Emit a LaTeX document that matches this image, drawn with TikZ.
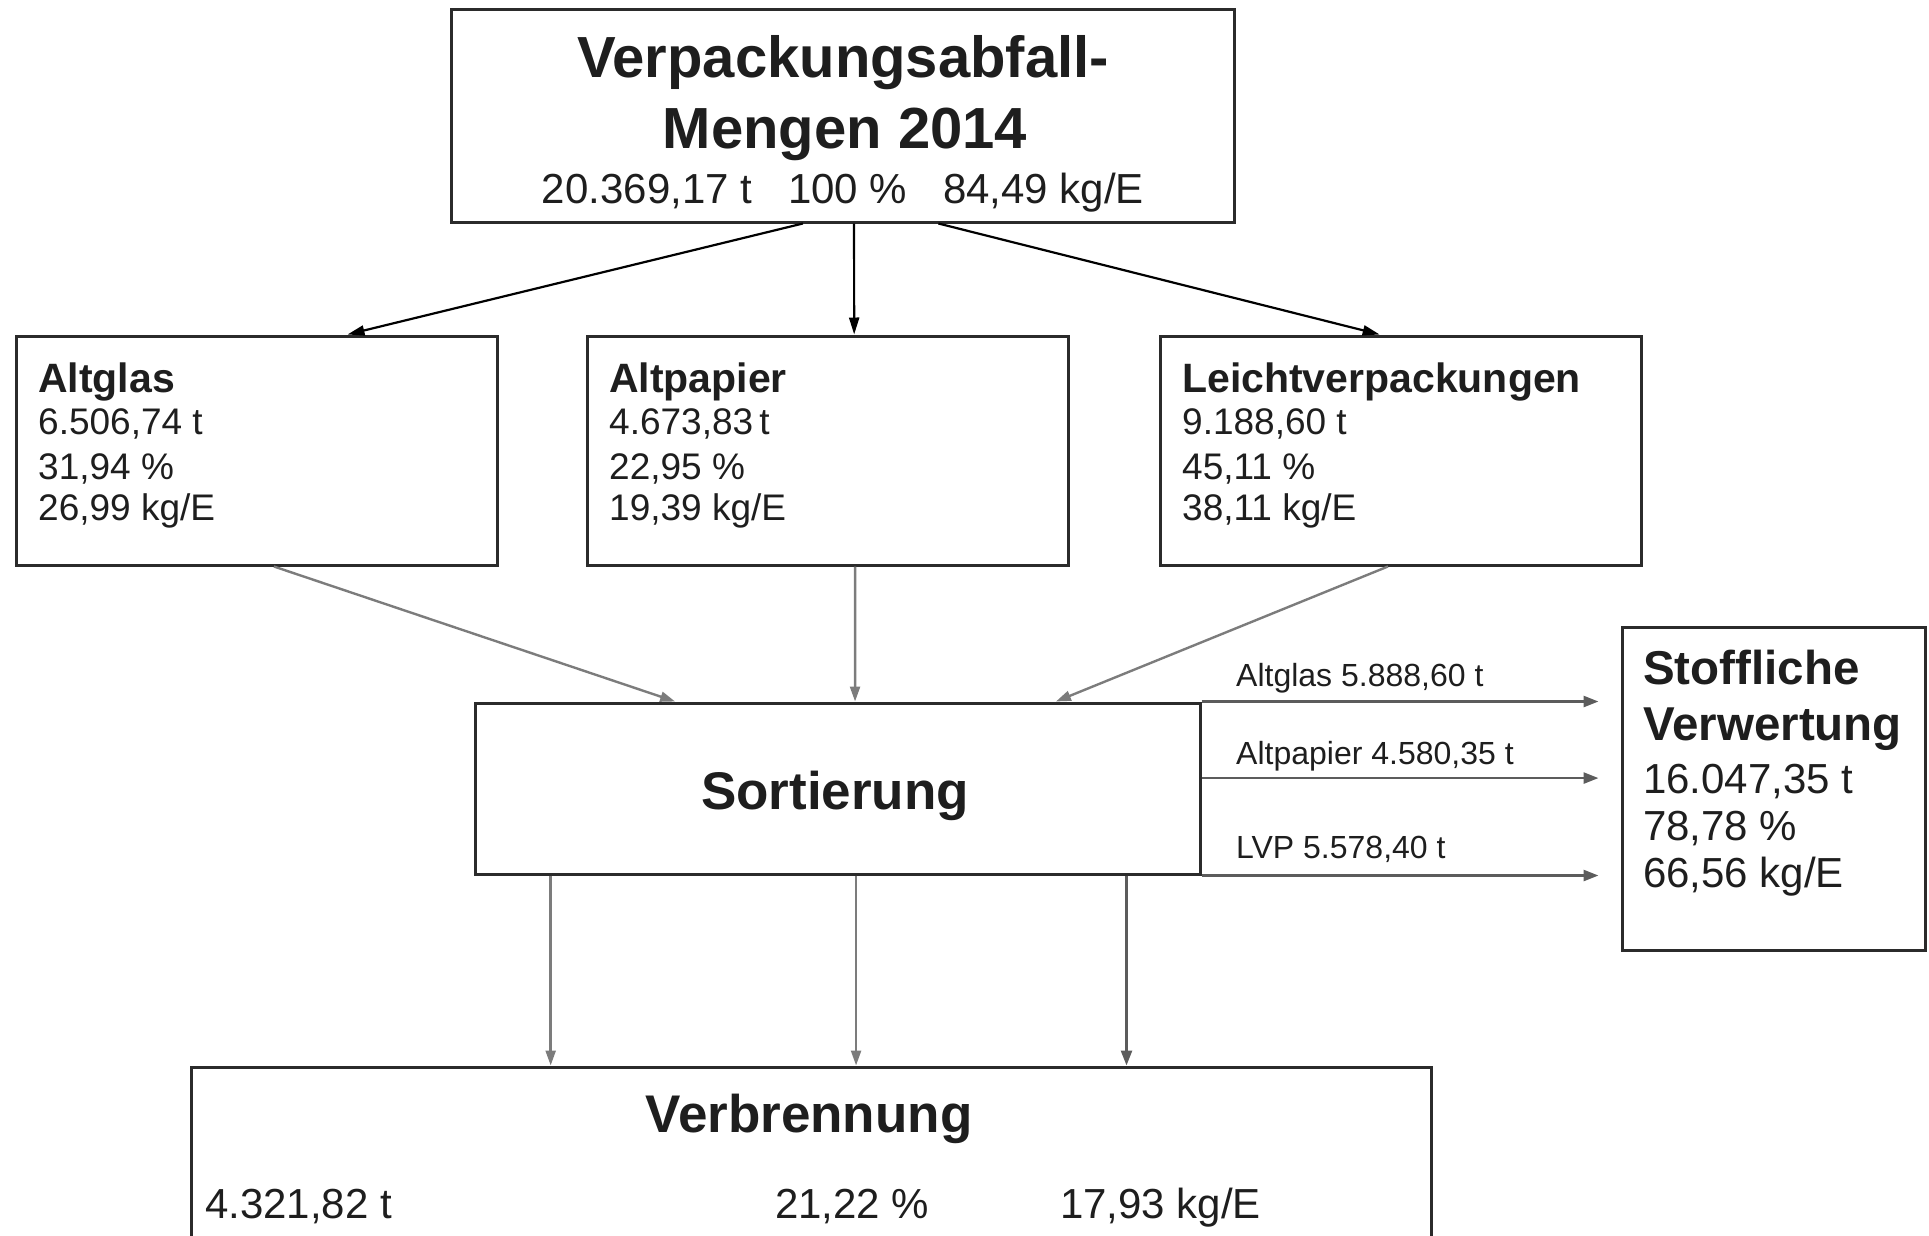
\documentclass[tikz,border=0pt]{standalone}
\usepackage{fontspec}
\setmainfont{Liberation Sans}
\usetikzlibrary{arrows.meta,calc}
\definecolor{ink}{HTML}{1E1E1E}
\definecolor{edgec}{HTML}{2B2B2B}
\definecolor{grayarrow}{HTML}{7C7C7C}
\definecolor{midarrow}{HTML}{5C5C5C}
\begin{document}
\begin{tikzpicture}[x=1pt,y=-1pt,
  box/.style={draw=edgec, line width=3pt, rectangle, inner sep=0pt, fill=white},
  txt/.style={inner sep=0pt, text=ink},
  bigb/.style={font=\fontsize{58pt}{64pt}\selectfont\bfseries},
  midb/.style={font=\fontsize{53pt}{60pt}\selectfont\bfseries},
  stb/.style={font=\fontsize{47.5pt}{54pt}\selectfont\bfseries},
  hb/.style={font=\fontsize{41pt}{46pt}\selectfont\bfseries},
  r42/.style={font=\fontsize{42pt}{48pt}\selectfont},
  r37/.style={font=\fontsize{37pt}{44pt}\selectfont},
  r32/.style={font=\fontsize{32pt}{36pt}\selectfont},
  conk/.style={draw=black, line width=2.2pt, -{Triangle[length=17pt,width=10pt]}},
  cong/.style={draw=grayarrow, line width=2.4pt, -{Triangle[length=15pt,width=10pt]}},
  conm/.style={draw=midarrow, line width=2.6pt, -{Triangle[length=15pt,width=11pt]}}
]
\useasboundingbox (0,0) rectangle (1929,1236);
\clip (0,0) rectangle (1929,1236);

% boxes
\node[box, minimum width=783pt, minimum height=212pt] (top) at (842.5,116) {};
\node[box, minimum width=481pt, minimum height=229pt] (ag) at (256.5,450.5) {};
\node[box, minimum width=481pt, minimum height=229pt] (ap) at (827.5,450.5) {};
\node[box, minimum width=481pt, minimum height=229pt] (lv) at (1400.5,450.5) {};
\node[box, minimum width=725pt, minimum height=171pt] (so) at (837.5,788.5) {};
\node[box, minimum width=303pt, minimum height=323pt] (sv) at (1773.5,788.5) {};
\node[box, minimum width=1240pt, minimum height=220pt] (vb) at (811,1177) {};

% top texts
\node[txt, bigb, anchor=base] (t1) at (843,78) {Verpackungsabfall-};
\node[txt, bigb, anchor=base] (t2) at (845,149) {Mengen 2014};
\node[txt, r42, anchor=base] (t3) at (843,203) {20.369,17 t\hspace{36pt}100 \%\hspace{36pt}84,49 kg/E};

% Altglas
\node[txt, hb, anchor=base west] (ag1) at (38,392) {Altglas};
\node[txt, r37, anchor=base west] (ag2) at (38,434) {6.506,74 t};
\node[txt, r37, anchor=base west] (ag3) at (38,479) {31,94 \%};
\node[txt, r37, anchor=base west] (ag4) at (38,520) {26,99 kg/E};
% Altpapier
\node[txt, hb, anchor=base west] (ap1) at (609,392) {Altpapier};
\node[txt, r37, anchor=base west] (ap2) at (609,434) {4.673,83\,t};
\node[txt, r37, anchor=base west] (ap3) at (609,479) {22,95 \%};
\node[txt, r37, anchor=base west] (ap4) at (609,520) {19,39 kg/E};
% LVP
\node[txt, hb, anchor=base west] (lv1) at (1182,392) {Leichtverpackungen};
\node[txt, r37, anchor=base west] (lv2) at (1182,434) {9.188,60 t};
\node[txt, r37, anchor=base west] (lv3) at (1182,479) {45,11 \%};
\node[txt, r37, anchor=base west] (lv4) at (1182,520) {38,11 kg/E};

% Sortierung
\node[txt, midb, anchor=base] (so1) at (835,809) {Sortierung};

% Stoffliche Verwertung
\node[txt, stb, anchor=base west] (sv1) at (1643,684) {Stoffliche};
\node[txt, stb, anchor=base west] (sv2) at (1643,740) {Verwertung};
\node[txt, r42, anchor=base west] (sv3) at (1643,793) {16.047,35 t};
\node[txt, r42, anchor=base west] (sv4) at (1643,840) {78,78 \%};
\node[txt, r42, anchor=base west] (sv5) at (1643,887) {66,56 kg/E};

% Verbrennung
\node[txt, midb, anchor=base] (vb1) at (809,1132) {Verbrennung};
\node[txt, r42, anchor=base west] (vb2) at (205,1218) {4.321,82 t};
\node[txt, r42, anchor=base west] (vb3) at (775,1218) {21,22 \%};
\node[txt, r42, anchor=base west] (vb4) at (1060,1218) {17,93 kg/E};

% flow labels
\node[txt, r32, anchor=base west] (l1) at (1236,686) {Altglas 5.888,60 t};
\node[txt, r32, anchor=base west] (l2) at (1236,764) {Altpapier 4.580,35 t};
\node[txt, r32, anchor=base west] (l3) at (1236,858) {LVP 5.578,40 t};

% connectors: top -> fractions
\draw[conk] ($(top.south west)!0.4496!(top.south east)$) -- ($(ag.north west)!0.688!(ag.north east)$);
\draw[conk] ($(top.south west)!0.5147!(top.south east)$) -- ($(ap.north west)!0.5551!(ap.north east)$);
\draw[conk] ($(top.south west)!0.622!(top.south east)$) -- ($(lv.north west)!0.457!(lv.north east)$);

% fractions -> Sortierung
\draw[cong] ($(ag.south west)!0.536!(ag.south east)$) -- ($(so.north west)!0.277!(so.north east)$);
\draw[cong] ($(ap.south west)!0.557!(ap.south east)$) -- ($(so.north west)!0.5241!(so.north east)$);
\draw[cong] ($(lv.south west)!0.474!(lv.south east)$) -- ($(so.north west)!0.80!(so.north east)$);

% Sortierung -> Stoffliche Verwertung
\coordinate (r1) at (so.north east);
\coordinate (r2) at ($(so.north east)!0.44!(so.south east)$);
\coordinate (r3) at (so.south east);
\draw[conm, shorten >=22pt] (r1) -- (r1 -| sv.west);
\draw[conm, shorten >=22pt] (r2) -- (r2 -| sv.west);
\draw[conm, shorten >=22pt] (r3) -- (r3 -| sv.west);

% Sortierung -> Verbrennung
\coordinate (d1) at ($(so.south west)!0.106!(so.south east)$);
\coordinate (d2) at ($(so.south west)!0.5255!(so.south east)$);
\coordinate (d3) at ($(so.south west)!0.897!(so.south east)$);
\draw[cong] (d1) -- (d1 |- vb.north);
\draw[cong] (d2) -- (d2 |- vb.north);
\draw[conm] (d3) -- (d3 |- vb.north);
\end{tikzpicture}
\end{document}
